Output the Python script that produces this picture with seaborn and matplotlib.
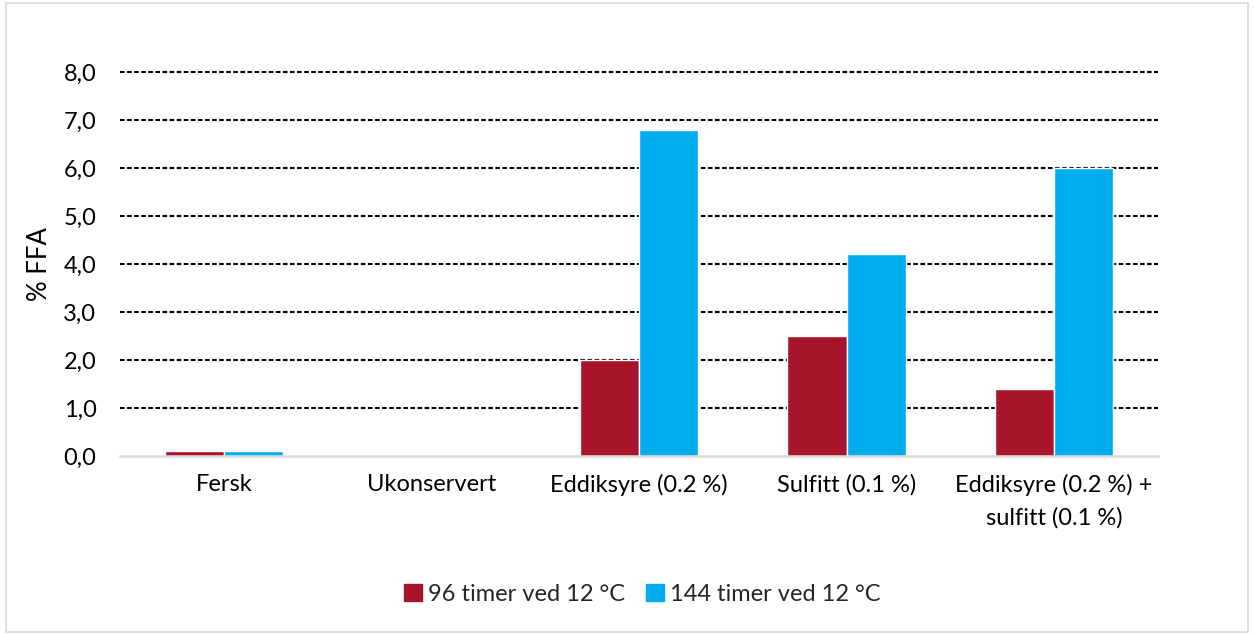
import matplotlib
matplotlib.use("Agg")
import matplotlib.pyplot as plt
import seaborn as sns
import pandas as pd
from matplotlib.patches import Rectangle

categories = ["Fersk", "Ukonservert", "Eddiksyre (0.2 %)", "Sulfitt (0.1 %)",
              "Eddiksyre (0.2 %) +\nsulfitt (0.1 %)"]
series_names = ["96 timer ved 12 °C", "144 timer ved 12 °C"]
vals_96 = [0.1, 0.0, 2.0, 2.5, 1.4]
vals_144 = [0.1, 0.0, 6.8, 4.2, 6.0]
colors = ["#A81429", "#00AEEF"]
yticks = [0, 1, 2, 3, 4, 5, 6, 7, 8]

df = pd.DataFrame({
    "cat": categories * 2,
    "serie": [series_names[0]] * 5 + [series_names[1]] * 5,
    "val": vals_96 + vals_144,
})

sns.set_theme(style="white")
plt.rcParams['font.family'] = ['Lato', 'DejaVu Sans']

fig = plt.figure(figsize=(12.54, 6.35), dpi=100)
ax = fig.add_axes([0.0957, 0.2819, 0.8277, 0.6047])

sns.barplot(data=df, x="cat", y="val", hue="serie", palette=colors,
            width=0.57, gap=0, ax=ax, legend=False, saturation=1)

ax.set_ylim(0, 8)
ax.set_xlim(-0.5, 4.5)
ax.set_yticks(yticks)
ax.set_yticklabels([f"{v:.1f}".replace(".", ",") for v in yticks], fontsize=17, color="#000000")
ax.set_xticks(range(len(categories)))
ax.set_xticklabels(categories, fontsize=17, color="#000000", linespacing=1.6)
ax.tick_params(axis="y", length=0, pad=17)
ax.tick_params(axis="x", length=0, pad=13)
ax.set_xlabel("")
ax.set_ylabel("% FFA", fontsize=18.5, color="#000000", labelpad=8)

for v in yticks[1:]:
    ax.axhline(v, color="black", linestyle=(0, (2.2, 1.2)), linewidth=1.5, zorder=0, clip_on=False)
ax.set_axisbelow(True)
for s in ["top", "right", "left"]:
    ax.spines[s].set_visible(False)
ax.spines["bottom"].set_color("#d9d9d9")
ax.spines["bottom"].set_linewidth(1.8)

handles = [Rectangle((0, 0), 1, 1, color=c) for c in colors]
fig.legend(handles, series_names, loc="center", bbox_to_anchor=(0.512, 0.064),
           ncol=2, frameon=False, fontsize=17, handlelength=0.75, handleheight=0.75,
           handletextpad=0.25, columnspacing=0.9)

fig.patches.append(Rectangle((0.005, 0.005), 0.99, 0.99, transform=fig.transFigure,
                             fill=False, edgecolor="#d9d9d9", linewidth=1.2))

fig.savefig("out.png", dpi=100)
